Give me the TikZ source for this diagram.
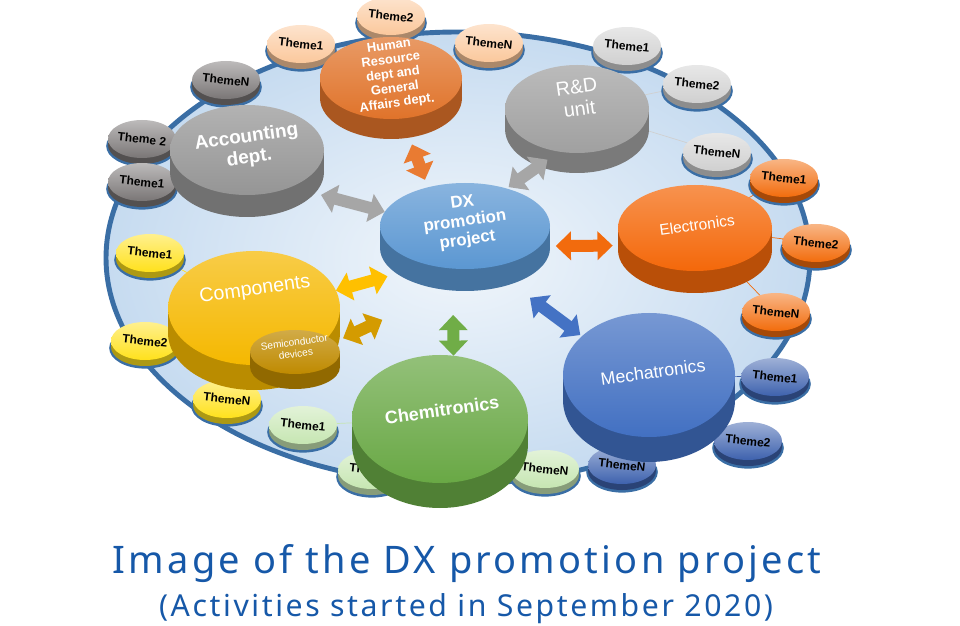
\documentclass[tikz,border=0pt]{standalone}
\usepackage{fontspec}
\setmainfont{Liberation Sans}
\newfontfamily\titlefont{Noto Sans}[LetterSpace=8.5]
\usetikzlibrary{arrows.meta,shapes.geometric}

\pgfdeclarelayer{back}
\pgfsetlayers{back,main}

\definecolor{ringblue}{HTML}{3A6EA5}
\definecolor{ringfill}{HTML}{C6DBF0}
\definecolor{titleblue}{HTML}{1658A8}

\definecolor{accgray}{HTML}{959595}
\definecolor{hrorange}{HTML}{E0732A}
\definecolor{rdgray}{HTML}{A0A0A0}
\definecolor{dxblue}{HTML}{5B97D2}
\definecolor{eleorange}{HTML}{F4680A}
\definecolor{compgold}{HTML}{F5B800}
\definecolor{semigold}{HTML}{BF8A00}
\definecolor{chemgreen}{HTML}{69A845}
\definecolor{mechblue}{HTML}{4270C2}

\definecolor{accth}{HTML}{7A7676}
\definecolor{hrth}{HTML}{FBC89C}
\definecolor{rdth}{HTML}{D0D0D0}
\definecolor{eleth}{HTML}{F26C0C}
\definecolor{mechth}{HTML}{3E62AE}
\definecolor{chemth}{HTML}{C6E6B2}
\definecolor{compth}{HTML}{FFE11C}

\definecolor{greyarrow}{HTML}{A6A6A6}
\definecolor{hrarrow}{HTML}{E97B32}
\definecolor{elearrow}{HTML}{F26B0D}
\definecolor{comparrow}{HTML}{FFC000}
\definecolor{semiarrow}{HTML}{D49B00}
\definecolor{chemarrow}{HTML}{70AD47}
\definecolor{mecharrow}{HTML}{4472C4}

\tikzset{
  topface/.style={ellipse, inner sep=0pt, outer sep=0pt, draw=none},
  deptlabel/.style={text=white, align=center, rotate=8, inner sep=0pt},
  themetext/.style={font=\bfseries\fontsize{8.5}{9}\selectfont, rotate=-6,
    inner sep=0pt},
  caption/.style={text=titleblue, inner sep=0pt},
  link/.style={draw=#1, line width=3mm,
    arrows={Triangle[width=7mm,length=3.8mm]-Triangle[width=7mm,length=3.8mm]}}
}

% disc: name, x, y, x radius, y radius, depth, colour
\newcommand\disc[7]{%
  \fill[#7!76!black] (#2-#4,#3) rectangle (#2+#4,#3+#6);
  \fill[#7!76!black] (#2,#3+#6) ellipse [x radius=#4, y radius=#5];
  \node[topface, top color=#7!72!white, bottom color=#7,
    minimum width=#4*0.5mm, minimum height=#5*0.5mm] (#1) at (#2,#3) {};
}

\def\themeRx{34}
\def\themeRy{19}
\def\themeD{6}

% theme bubble: name, x, y, colour, text
\newcommand\themedisc[5]{%
  \fill[ringblue] (#2,#3+\themeD+1) ellipse [x radius=\themeRx+1.8, y radius=\themeRy+1.6];
  \fill[fill=#4!68!black] (#2-\themeRx,#3) rectangle (#2+\themeRx,#3+\themeD);
  \fill[fill=#4!68!black] (#2,#3+\themeD) ellipse [x radius=\themeRx, y radius=\themeRy];
  \node[topface, top color=#4!50!white, bottom color=#4,
    minimum width=\themeRx*0.5mm, minimum height=\themeRy*0.5mm] (#1) at (#2,#3) {};
  \node[themetext] (#1-t) at (#2,#3) {#5};
}

\def\themelist{accN/acc/226/80/accth/ThemeN, acc2/acc/142/139/accth/Theme 2,
  acc1/acc/142/182/accth/Theme1, hr1/hr/301/44/hrth/Theme1,
  hr2/hr/391/16/hrth/Theme2, hrN/hr/489/43/hrth/ThemeN,
  rd1/rd/627/46/rdth/Theme1, rd2/rd/697/84/rdth/Theme2,
  rdN/rd/717/152/rdth/ThemeN, ele1/ele/784/178/eleth/Theme1,
  ele2/ele/816/243/eleth/Theme2, eleN/ele/776/312/eleth/ThemeN,
  mech1/mech/775/377/mechth/Theme1, mech2/mech/748/441/mechth/Theme2,
  mechN/mech/622/465/mechth/ThemeN, chemN/chem/545/469/chemth/ThemeN,
  chem2/chem/372/470/chemth/Theme2, chem1/chem/303/425/chemth/Theme1,
  comp1/comp/150/253/compth/Theme1, comp2/comp/145/341/compth/Theme2,
  compN/comp/227/399/compth/ThemeN}

\begin{document}
\begin{tikzpicture}[x=0.25mm, y=-0.25mm, line join=round]

  \useasboundingbox (0,0) rectangle (960,626);

  % ------------------ Ring ------------------
  \begin{pgfonlayer}{back}
    \shade[inner color=ringfill!25!white, outer color=ringfill]
      (458,258) ellipse [x radius=352, y radius=226];
    \draw[ringblue, line width=3.5pt]
      (458,258) ellipse [x radius=352, y radius=226];
  \end{pgfonlayer}

  % ------------------ Themes ------------------
  \foreach \nm/\dep/\x/\y/\col/\txt in \themelist {
    \themedisc{\nm}{\x}{\y}{\col}{\txt}
  }

  % ------------------ Departments ------------------
  \disc{acc}{247}{150}{77}{45}{22}{accgray}
  \disc{hr}{391}{78}{71}{41}{20}{hrorange}
  \disc{rd}{577}{109}{72}{44}{20}{rdgray}
  \disc{ele}{695}{228}{77}{43}{22}{eleorange}
  \disc{comp}{254}{308}{86}{57}{25}{compgold}
  \disc{semi}{295}{352}{45}{22}{15}{semigold}
  \disc{chem}{440}{419}{88}{64}{25}{chemgreen}
  \disc{mech}{649}{375}{86}{62}{25}{mechblue}
  \disc{dx}{465}{226}{85}{43}{22}{dxblue}

  \node[deptlabel, font=\bfseries\fontsize{13.5}{15}\selectfont]
    (acc-t) at ([shift={(1,-2)}]acc) {Accounting\\dept.};
  \node[deptlabel, font=\bfseries\fontsize{9.2}{10.3}\selectfont]
    (hr-t) at ([shift={(2,-3)}]hr) {Human\\Resource\\dept and\\General\\Affairs dept.};
  \node[deptlabel, font=\fontsize{14}{15.7}\selectfont]
    (rd-t) at ([shift={(1,-11)}]rd) {R\&D\\unit};
  \node[deptlabel, font=\bfseries\fontsize{12}{13.4}\selectfont]
    (dx-t) at ([shift={(0,-4)}]dx) {DX\\promotion\\project};
  \node[deptlabel, font=\fontsize{11}{12}\selectfont]
    (ele-t) at ([shift={(2,-3)}]ele) {Electronics};
  \node[deptlabel, font=\fontsize{14}{15}\selectfont]
    (comp-t) at ([shift={(1,-18)}]comp) {Components};
  \node[deptlabel, font=\fontsize{7.2}{8.1}\selectfont]
    (semi-t) at ([shift={(0,-4)}]semi) {Semiconductor\\devices};
  \node[deptlabel, font=\bfseries\fontsize{12.8}{14}\selectfont]
    (chem-t) at ([shift={(2,-9)}]chem) {Chemitronics};
  \node[deptlabel, font=\fontsize{12.6}{14}\selectfont]
    (mech-t) at ([shift={(4,-3)}]mech) {Mechatronics};

  % ------------------ Thin links to themes ------------------
  \begin{pgfonlayer}{back}
    \foreach \nm/\dep/\x/\y/\col/\txt in \themelist {
      \draw[draw=\col, line width=0.5pt] (\dep) -- (\nm);
    }
  \end{pgfonlayer}

  % ------------------ Arrows to the DX project ------------------
  \draw[link=greyarrow, shorten <=7.75mm] (acc.-40) -- (dx.170);
  \draw[link=hrarrow, shorten <=6.9mm, shorten >=2mm] (hr.-74) -- (dx.134);
  \draw[link=greyarrow, shorten <=3.5mm, shorten >=0.6mm] (rd.-113) -- (dx.42);
  \draw[link=elearrow, shorten <=3.9mm, shorten >=3mm] (dx.-15) -- (ele.194);
  \draw[link=comparrow, shorten >=10.7mm] (comp.12) -- (dx.-133);
  \draw[link=semiarrow, shorten <=2.2mm, shorten >=32mm] (semi.14) -- (dx.-50);
  \draw[link=chemarrow, shorten <=11.6mm] (dx.-106) -- (chem.78);
  \draw[link=mecharrow, shorten <=12.8mm, shorten >=0.5mm] (dx.-60) -- (mech.150);

  % ------------------ Caption ------------------
  \node[caption, font=\titlefont\fontsize{27}{31}\selectfont]
    (title) at (467,564) {Image of the DX promotion project};
  \node[caption, font=\titlefont\fontsize{21.5}{25}\selectfont]
    (subtitle) at (466,609) {(Activities started in September 2020)};

\end{tikzpicture}
\end{document}
